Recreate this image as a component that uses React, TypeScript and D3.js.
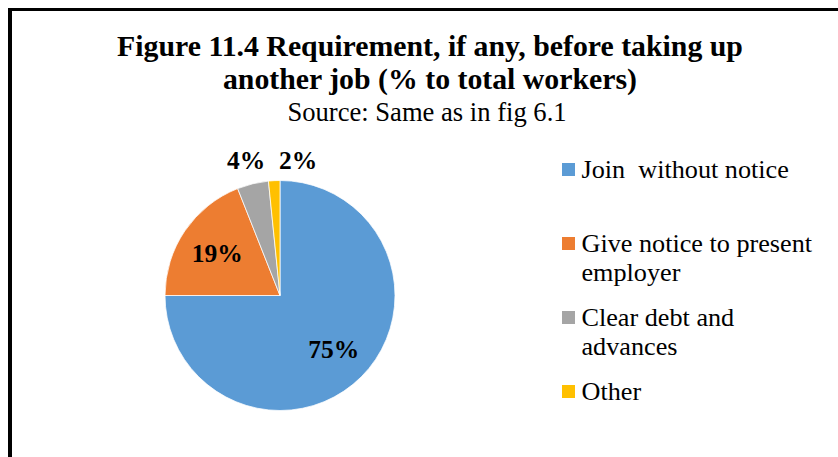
import React from "react";
import * as d3 from "d3";

const categories = ["Join  without notice", "Give notice to present employer", "Clear debt and advances", "Other"];
const values = [75, 19, 4.4, 1.6];
const colors = ["#5B9BD5", "#ED7D31", "#A5A5A5", "#FFC000"];
const legendLines = [["Join  without notice"], ["Give notice to present", "employer"], ["Clear debt and", "advances"], ["Other"]];
const titleLines = ["Figure 11.4 Requirement, if any, before taking up", "another job (% to total workers)"];
const subtitle = "Source: Same as in fig 6.1";

const W = 838;
const H = 457;
const FONT = "'Liberation Serif', 'Times New Roman', serif";

export default function App() {
  const cx = 280;
  const cy = 295.5;
  const r = 115;
  const total = d3.sum(values);
  const pie = d3.pie<number>().sort(null).value((d) => d)(values);
  const arc = d3.arc<d3.PieArcDatum<number>>().innerRadius(0).outerRadius(r);
  const labelArc = d3.arc<d3.PieArcDatum<number>>().innerRadius(r * 0.66).outerRadius(r * 0.66);

  const labels: { x: number; y: number; text: string; outside: boolean }[] = [];
  let lastOutsideX = -Infinity;
  pie.forEach((p) => {
    const pct = Math.round((p.value / total) * 100) + "%";
    const frac = p.value / total;
    if (frac < 0.1) {
      const mid = (p.startAngle + p.endAngle) / 2;
      let x = Math.sin(mid) * (r + 28);
      const minGap = 52;
      if (x < lastOutsideX + minGap) x = lastOutsideX + minGap;
      lastOutsideX = x;
      labels.push({ x, y: -r - 11.5, text: pct, outside: true });
    } else {
      const [x, y] = labelArc.centroid(p);
      labels.push({ x, y, text: pct, outside: false });
    }
  });

  const legendX = 562;
  const legendY0 = 178;
  const entryH = 74;
  const lineH = 28.5;

  return (
    <svg width={W} height={H} style={{ display: "block", position: "absolute", left: 0, top: 0 }}>
      <rect x={0} y={0} width={W} height={H} fill="#fff" />
      <line x1={10} y1={8} x2={10} y2={H + 10} stroke="#000" strokeWidth={4} />
      <line x1={8} y1={9.5} x2={W + 10} y2={9.5} stroke="#000" strokeWidth={3} />
      <g fontFamily={FONT} textAnchor="middle" fill="#000">
        {titleLines.map((t, i) => (
          <text key={i} x={430} y={56 + i * 33} fontSize={29.8} fontWeight="bold">
            {t}
          </text>
        ))}
        <text x={427} y={121} fontSize={26.6}>
          {subtitle}
        </text>
      </g>
      <g transform={`translate(${cx},${cy})`}>
        {pie.map((p, i) => (
          <path key={i} d={arc(p) || ""} fill={colors[i]} stroke="#fff" strokeWidth={0.75} />
        ))}
        {labels.map((l, i) => (
          <text
            key={i}
            x={l.x}
            y={l.y}
            dy={l.outside ? 0 : "0.35em"}
            textAnchor="middle"
            fontFamily={FONT}
            fontWeight="bold"
            fontSize={25.5}
            fill="#000"
          >
            {l.text}
          </text>
        ))}
      </g>
      <g fontFamily={FONT} fontSize={26.2} fill="#000">
        {legendLines.map((lines, i) => {
          const y = legendY0 + i * entryH;
          return (
            <g key={i}>
              <rect x={legendX} y={y - 15} width={13} height={13} fill={colors[i]} />
              <text x={legendX + 19.5} y={y} style={{ whiteSpace: "pre" }}>
                {lines.map((ln, j) => (
                  <tspan key={j} x={legendX + 19.5} y={y + j * lineH}>
                    {ln}
                  </tspan>
                ))}
              </text>
            </g>
          );
        })}
      </g>
    </svg>
  );
}
